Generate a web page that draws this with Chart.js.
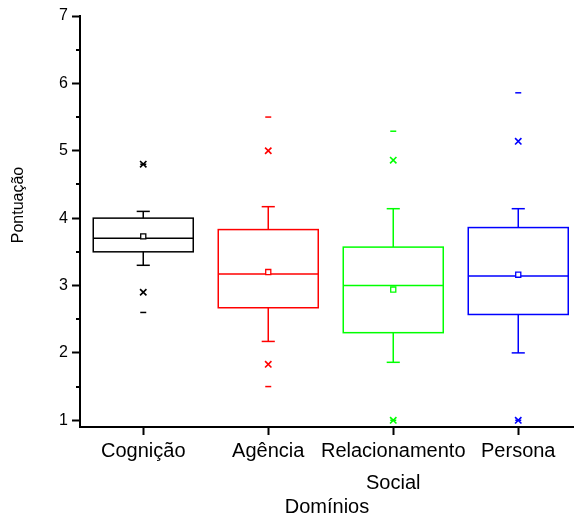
<!DOCTYPE html>
<html>
<head>
<meta charset="utf-8">
<script src="https://cdn.jsdelivr.net/npm/chart.js@4/dist/chart.umd.min.js"></script>
<style>
  html, body { margin: 0; padding: 0; background: #ffffff; }
  canvas { display: block; }
</style>
</head>
<body>
<canvas id="c" width="574" height="519"></canvas>
<script>
// Score distribution per domain
const categories = ['Cognição', 'Agência', ['Relacionamento', 'Social'], 'Persona'];
const yTickValues = [1, 2, 3, 4, 5, 6, 7];
const yMinorTicks = [1.5, 2.5, 3.5, 4.5, 5.5, 6.5];

const q1          = [3.50, 2.67, 2.30, 2.57];
const median      = [3.70, 3.17, 3.00, 3.14];
const q3          = [4.00, 3.83, 3.57, 3.86];
const whiskerLow  = [3.30, 2.17, 1.86, 2.00];
const whiskerHigh = [4.10, 4.17, 4.14, 4.14];
const mean        = [3.73, 3.20, 2.94, 3.16];
const outlierLow  = [2.90, 1.83, 1.00, 1.00];
const outlierHigh = [4.80, 5.00, 4.86, 5.14];
const minimum     = [2.60, 1.50, 1.00, 1.00];
const maximum     = [4.80, 5.50, 5.29, 5.86];

// styling
const boxColors = ['#000000', '#ff0000', '#00ff00', '#0000ff'];
const BOX_WIDTH = 0.8;   // in category units
const CAP_WIDTH = 0.105;
const FONT = "'Liberation Sans', Arial, sans-serif";

const pts = (arr) => arr.map((v, i) => ({ x: i + 1, y: v }));
const colorOf = (c) => boxColors[c.raw ? c.raw.x - 1 : 0];

// boxes, medians and whiskers drawn from the scales
const boxPlot = {
  id: 'boxPlot',
  beforeDatasetsDraw(chart) {
    const { ctx, scales: { x, y } } = chart;
    const line = (x1, y1, x2, y2) => { ctx.beginPath(); ctx.moveTo(x1, y1); ctx.lineTo(x2, y2); ctx.stroke(); };
    ctx.save();
    ctx.lineWidth = 1.5;
    categories.forEach((_, i) => {
      const cx = x.getPixelForValue(i + 1);
      const half = x.getPixelForValue(i + 1 + BOX_WIDTH / 2) - cx;
      const cap = x.getPixelForValue(i + 1 + CAP_WIDTH / 2) - cx;
      const yQ1 = y.getPixelForValue(q1[i]);
      const yQ3 = y.getPixelForValue(q3[i]);
      const yMed = y.getPixelForValue(median[i]);
      const yLo = y.getPixelForValue(whiskerLow[i]);
      const yHi = y.getPixelForValue(whiskerHigh[i]);
      ctx.strokeStyle = boxColors[i];
      ctx.strokeRect(cx - half, yQ3, 2 * half, yQ1 - yQ3);
      line(cx - half, yMed, cx + half, yMed);
      line(cx, yQ3, cx, yHi);
      line(cx - cap, yHi, cx + cap, yHi);
      line(cx, yQ1, cx, yLo);
      line(cx - cap, yLo, cx + cap, yLo);
    });
    ctx.restore();
  }
};

// short minor ticks on the value axis and the rotated axis title
const axisExtras = {
  id: 'axisExtras',
  afterDraw(chart) {
    const { ctx, scales: { y }, chartArea } = chart;
    ctx.save();
    ctx.strokeStyle = '#000';
    ctx.lineWidth = 2;
    yMinorTicks.forEach(v => {
      const py = Math.round(y.getPixelForValue(v));
      ctx.beginPath();
      ctx.moveTo(chartArea.left - 4, py);
      ctx.lineTo(chartArea.left, py);
      ctx.stroke();
    });
    ctx.translate(19, 205);
    ctx.rotate(-Math.PI / 2);
    ctx.fillStyle = '#000';
    ctx.font = '16px ' + FONT;
    ctx.textAlign = 'center';
    ctx.textBaseline = 'middle';
    ctx.fillText('Pontuação', 0, 0);
    ctx.restore();
  }
};

new Chart(document.getElementById('c'), {
  type: 'scatter',
  data: {
    datasets: [
      {
        label: 'Mínimo / Máximo',
        data: pts(minimum).concat(pts(maximum)),
        pointStyle: 'line',
        radius: 3,
        borderWidth: 1.5,
        pointBorderColor: colorOf,
        pointBackgroundColor: colorOf
      },
      {
        label: 'Percentis 1% / 99%',
        data: pts(outlierLow).concat(pts(outlierHigh)),
        pointStyle: 'crossRot',
        radius: 4.5,
        borderWidth: 1.6,
        pointBorderColor: colorOf,
        pointBackgroundColor: colorOf
      },
      {
        label: 'Média',
        data: pts(mean),
        pointStyle: 'rect',
        radius: 3.6,
        borderWidth: 1.3,
        pointBorderColor: colorOf,
        pointBackgroundColor: '#ffffff'
      }
    ]
  },
  options: {
    responsive: false,
    devicePixelRatio: 1,
    animation: false,
    events: [],
    layout: { autoPadding: false, padding: { top: 16, left: 0, right: 0, bottom: 0 } },
    plugins: { legend: { display: false }, tooltip: { enabled: false } },
    scales: {
      x: {
        type: 'linear',
        position: 'bottom',
        min: 0.494,
        max: 4.446,
        afterBuildTicks: (s) => { s.ticks = categories.map((_, i) => ({ value: i + 1 })); },
        afterFit: (s) => { s.height = 92; s.paddingLeft = 0; s.paddingRight = 0; },
        grid: { drawOnChartArea: false, drawTicks: true, tickLength: 8, tickWidth: 2, tickColor: '#000' },
        border: { display: true, color: '#000', width: 2 },
        ticks: {
          autoSkip: false, maxRotation: 0, minRotation: 0, padding: 0,
          color: '#000',
          font: { family: FONT, size: 20, lineHeight: 1.6 },
          callback: (v, i) => categories[i]
        },
        title: {
          display: true, text: 'Domínios', color: '#000',
          font: { family: FONT, size: 20, lineHeight: 1.2 },
          padding: { top: 0, bottom: 0 }
        }
      },
      y: {
        type: 'linear',
        min: 0.9,
        max: 7,
        afterBuildTicks: (s) => { s.ticks = yTickValues.map(v => ({ value: v })); },
        afterFit: (s) => { s.width = 80; s.paddingTop = 0; s.paddingBottom = 0; },
        grid: { drawOnChartArea: false, drawTicks: true, tickLength: 8, tickWidth: 2, tickColor: '#000' },
        border: { display: true, color: '#000', width: 2 },
        ticks: {
          padding: 4, color: '#000',
          font: { family: FONT, size: 16 },
          callback: (v) => String(v)
        }
      }
    }
  },
  plugins: [boxPlot, axisExtras]
});
</script>
</body>
</html>
